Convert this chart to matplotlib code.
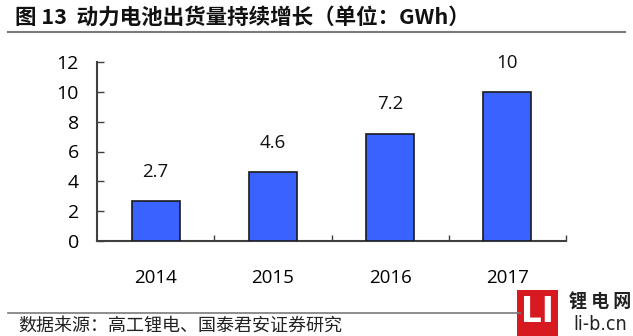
import matplotlib
matplotlib.use("Agg")
import matplotlib.pyplot as plt
from matplotlib.patches import Rectangle
from matplotlib.lines import Line2D

years = ["2014", "2015", "2016", "2017"]
shipments = [2.7, 4.6, 7.2, 10]
value_labels = ["2.7", "4.6", "7.2", "10"]
yticks = [0, 2, 4, 6, 8, 10, 12]

plt.rcParams['font.family'] = ['Open Sans', 'Noto Sans CJK SC', 'DejaVu Sans']

fig = plt.figure(figsize=(6.33, 3.36), dpi=100)
W, H = 633, 336
ax = fig.add_axes([97 / W, 1 - 241 / H, (566 - 97) / W, (241 - 62) / H])

x = list(range(len(years)))
ax.bar(x, shipments, width=0.41, color='#3a62ff', edgecolor='#1a1a1a', linewidth=1.2, zorder=3)
for xi, v, lab in zip(x, shipments, value_labels):
    ax.annotate(lab, (xi, v), xytext=(0, 21), textcoords='offset points',
                ha='center', va='center', fontsize=13.5, color='#111111')

ax.set_xlim(-0.5, len(years) - 0.5)
ax.set_ylim(0, 12)
ax.set_yticks(yticks)
ax.set_yticklabels([str(t) for t in yticks], fontsize=14)
ax.set_xticks(x)
ax.set_xticklabels(years, fontsize=13.5)
ax.tick_params(axis='x', length=0, pad=20)
ax.set_xticks([i + 0.5 for i in x], minor=True)
ax.tick_params(axis='x', which='minor', direction='in', length=4, width=1, color='#404040')
ax.tick_params(axis='y', direction='in', length=5, width=1, color='#404040', pad=13)
for s in ['top', 'right']:
    ax.spines[s].set_visible(False)
for s in ['left', 'bottom']:
    ax.spines[s].set_color('#404040')
    ax.spines[s].set_linewidth(1.5)

# Title and rules
fig.text(15 / W, 1 - 17 / H, "图 13  动力电池出货量持续增长（单位：GWh）",
         fontsize=15.5, fontweight='bold', family=['Noto Sans CJK SC', 'DejaVu Sans'],
         ha='left', va='center', color='#111111')
fig.add_artist(Line2D([8 / W, 625 / W], [1 - 32 / H, 1 - 32 / H], color='#7a7a7a', linewidth=1.5))
fig.add_artist(Line2D([8 / W, 520 / W], [1 - 313 / H, 1 - 313 / H], color='#7a7a7a', linewidth=1.2))
fig.text(18 / W, 1 - 326 / H, "数据来源：高工锂电、国泰君安证券研究",
         fontsize=13, family=['Noto Sans CJK SC', 'DejaVu Sans'], ha='left', va='center', color='#222222')

# Logo
fig.add_artist(Rectangle((517 / W, 0), (558 - 517) / W, (336 - 290) / H,
                         transform=fig.transFigure, facecolor='#d71920', edgecolor='none'))
fig.text(537.5 / W, 1 - 312 / H, "LI", fontsize=26, fontweight='bold', color='white',
         family=['DejaVu Sans'], stretch='condensed', ha='center', va='center')
fig.text(600 / W, 1 - 302 / H, "锂 电 网", fontsize=13, fontweight='bold', color='#222222',
         family=['Noto Sans CJK SC', 'DejaVu Sans'], ha='center', va='center')
fig.text(600 / W, 1 - 324 / H, "li-b.cn", fontsize=14, color='#222222',
         family=['DejaVu Sans'], stretch='condensed', ha='center', va='center')

fig.savefig("out.png", dpi=100)
